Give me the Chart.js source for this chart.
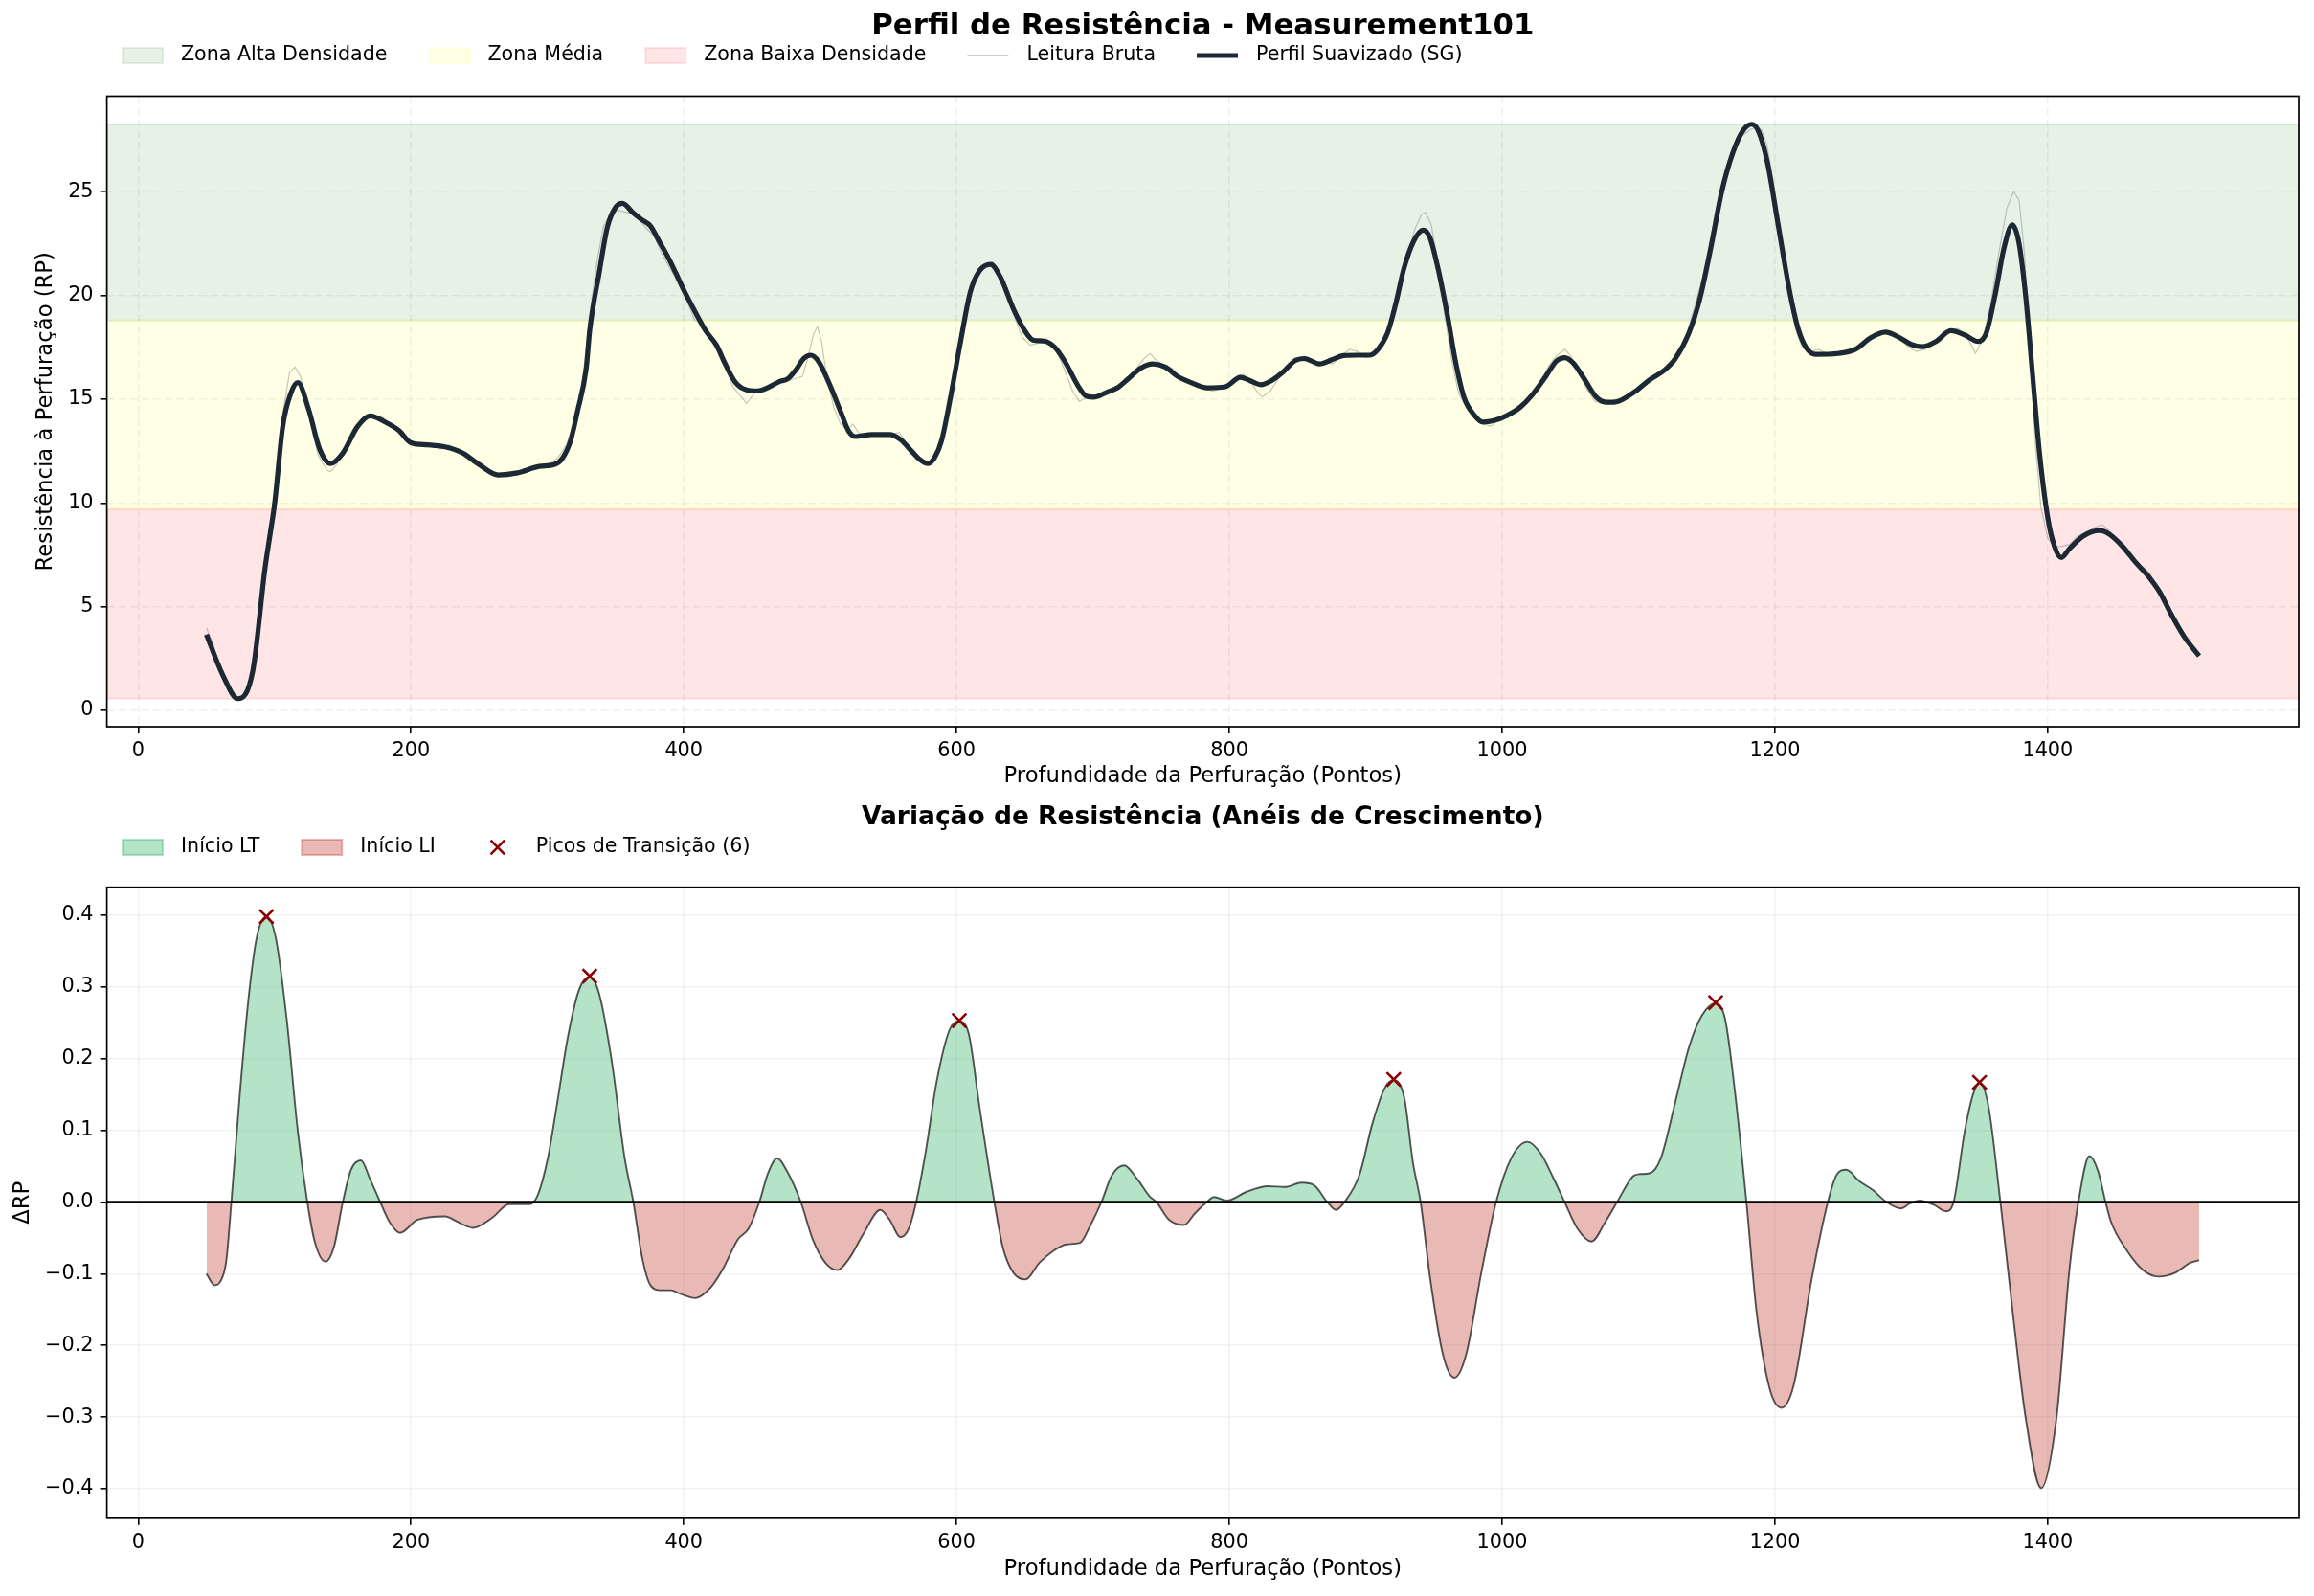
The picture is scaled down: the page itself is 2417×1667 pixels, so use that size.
<!DOCTYPE html>
<html>
<head>
<meta charset="utf-8">
<title>Perfil de Resistência - Measurement101</title>
<script src="https://cdn.jsdelivr.net/npm/chart.js@4.4.1/dist/chart.umd.min.js"></script>
<style>
    html, body { margin: 0; padding: 0; background: #fff; }
    canvas { display: block; }
</style>
</head>
<body>
<canvas id="profile-canvas" width="2417" height="830"></canvas>
<canvas id="delta-canvas" width="2417" height="837"></canvas>
<script>
// smoothed profile (SG)
var profileDepth = [50,62,73,84,93,96.5,100,106,112,117,125,
    133,141,150,161,170,181,191,200,212,225,
    238,250,264,278,294,305,311,317,322,328.5,
    331,338,344,350,355,363,369,375.5,382,388,
    394,400,410,416,424,430,438,446,454,463,
    470,476,482,488,493,499,507,515,521,526,
    538,551,559,567,573,579,584,589,595,603,
    610,617,625,632,642,650,656,664,672,680,
    689,695,701,710,718,727,735,744,753,762,
    772,784,797,808,815,823,831,840,848,855,
    866,875,884,894,903,909,916,922,928,935,
    942,947,953,960,966,972,980,986,994,1003,
    1013,1022,1032,1040,1046,1052,1060,1069,1077,1085,
    1097,1108,1119,1127,1137,1145,1153,1161,1169,1177,
    1183,1188,1194.5,1202.5,1210.6,1217,1223,1230,1246,1259,
    1270,1281,1291,1300,1308,1318,1329,1339,1349,1355,
    1361.5,1368,1374,1379,1384,1389,1394,1400,1405,1410,
    1416,1426,1438,1445,1455,1464,1474,1482,1490,1500,
    1511];
var profileRP = [3.66,1.71,0.57,1.9,6.86,8.4,9.95,13.7,15.3,15.8,14.5,
    12.6,11.9,12.4,13.7,14.2,13.9,13.5,12.9,12.8,12.7,
    12.4,11.85,11.35,11.45,11.76,11.85,12.15,13.0,14.4,16.5,
    18.3,21.1,23.3,24.25,24.44,23.97,23.66,23.35,22.6,21.9,
    21.1,20.26,19.0,18.3,17.6,16.75,15.8,15.45,15.4,15.6,
    15.85,15.97,16.4,16.96,17.12,16.8,15.7,14.4,13.45,13.2,
    13.3,13.3,13.05,12.5,12.1,11.9,12.2,13.0,14.9,17.8,
    20.15,21.2,21.5,20.9,19.3,18.3,17.85,17.8,17.5,16.75,
    15.65,15.15,15.1,15.33,15.55,16.05,16.5,16.7,16.55,16.1,
    15.8,15.55,15.6,16.05,15.9,15.7,15.9,16.35,16.85,16.96,
    16.7,16.9,17.1,17.12,17.12,17.4,18.2,19.6,21.3,22.6,
    23.15,22.8,21.3,19.0,16.75,15.1,14.2,13.9,13.97,14.2,
    14.6,15.2,16.1,16.85,17.0,16.75,16.0,15.1,14.85,14.9,
    15.35,15.93,16.4,16.96,18.2,19.85,22.3,25.0,26.85,27.98,
    28.25,27.9,26.4,23.35,20.26,18.4,17.47,17.16,17.2,17.4,
    17.95,18.23,17.98,17.64,17.53,17.78,18.3,18.1,17.78,18.2,
    20.05,22.3,23.4,22.5,19.85,16.1,12.4,9.3,7.9,7.37,
    7.8,8.4,8.67,8.5,7.9,7.17,6.45,5.72,4.7,3.56,
    2.63];

// raw reading (thin grey line)
var rawDepth = [50,55,62,70,75,80,86,93,100,106,
    111,115,119,125,132,138,141,146,152,158,
    163,168,174,178,184,191,198,205,210,216,
    222,228,234,240,246,252,258,264,270,276,
    282,288,292,296,302,308,314,320,326,331,
    336,341,346,352,358,364,368,373,378,384,
    390,396,402,408,413,418,424,430,436,441,
    446,452,458,464,470,476,482,487,491,495,
    498,501,505,510,515,520,524,528,534,540,
    546,552,558,562,568,574,579,584,590,596,
    603,610,616,622,627,632,640,648,654,660,
    666,672,678,685,690,696,702,708,714,720,
    726,732,738,742,746,752,758,764,770,776,
    782,788,794,800,806,810,815,820,824,830,
    836,842,848,852,858,864,870,876,882,888,
    894,900,906,912,918,924,930,936,941,944,
    948,953,958,963,968,974,980,986,992,998,
    1004,1010,1016,1022,1028,1034,1040,1046,1050,1056,
    1062,1068,1074,1080,1086,1092,1098,1104,1110,1116,
    1122,1128,1134,1140,1146,1152,1158,1164,1170,1176,
    1182,1186,1190,1194,1198,1204,1210,1215,1220,1226,
    1232,1238,1244,1250,1256,1262,1268,1274,1280,1286,
    1292,1298,1304,1310,1316,1322,1328,1334,1340,1344,
    1347,1352,1358,1364,1370,1375,1379,1383,1387,1391,
    1395,1400,1405,1410,1416,1422,1428,1434,1440,1446,
    1452,1458,1464,1470,1475,1480,1486,1492,1498,1504,
    1510];
var rawRP = [3.98,3.2,1.6,0.7,0.5,0.9,2.6,7.0,10.3,14.3,
    16.3,16.55,16.1,14.3,12.3,11.6,11.5,11.9,12.8,13.6,
    13.9,14.2,14.1,14.2,13.8,13.4,13.0,12.9,12.7,12.75,
    12.6,12.8,12.6,12.2,11.9,11.7,11.5,11.4,11.3,11.35,
    11.5,11.6,11.8,11.7,11.9,12.2,12.8,14.0,16.0,19.0,
    21.5,23.3,23.9,24.1,24.0,24.0,23.6,23.2,22.9,22.0,
    21.3,20.6,19.8,18.8,18.7,18.2,17.5,16.6,15.6,15.2,
    14.8,15.3,15.4,15.7,15.8,15.9,16.0,16.1,17.0,18.1,
    18.5,17.8,16.0,14.6,13.8,13.5,13.8,13.4,13.2,13.3,
    13.2,13.3,13.4,13.0,12.5,12.1,11.9,12.2,13.3,15.4,
    18.2,20.4,21.3,21.5,21.6,21.0,19.4,18.0,17.6,17.7,
    17.9,17.5,16.6,15.4,14.9,15.1,15.2,15.2,15.4,15.6,
    15.9,16.5,17.0,17.2,16.9,16.6,16.5,16.0,15.9,15.7,
    15.5,15.4,15.5,15.7,16.1,16.2,15.9,15.4,15.1,15.4,
    16.0,16.5,17.0,16.9,16.8,16.7,16.8,16.7,17.1,17.4,
    17.3,17.0,17.2,17.8,18.6,20.0,21.8,23.2,23.9,24.0,
    23.4,21.5,19.0,16.9,15.3,14.6,14.1,13.8,13.7,14.1,
    14.1,14.4,14.7,15.1,15.8,16.6,17.1,17.4,17.1,16.3,
    15.5,14.9,14.8,14.9,15.0,15.1,15.3,15.7,16.0,16.2,
    16.5,17.0,17.8,19.2,20.6,22.4,24.4,26.0,27.0,27.7,
    28.0,28.1,28.0,27.3,25.8,23.0,20.2,18.4,17.5,17.3,
    17.4,17.2,17.2,17.3,17.3,17.5,17.9,18.1,18.2,18.2,
    17.9,17.5,17.3,17.4,17.7,18.0,18.3,18.4,18.1,17.6,
    17.2,17.8,19.5,22.0,24.2,25.0,24.6,22.0,17.5,12.8,
    9.8,8.3,7.9,7.9,8.0,8.4,8.6,8.8,8.96,8.6,
    8.1,7.6,7.1,6.9,6.6,5.9,5.2,4.4,3.7,3.1,
    2.7];

// density zones (lower / upper bound of each band)
var zoneNames = ['Zona Alta Densidade', 'Zona Média', 'Zona Baixa Densidade'];
var zoneLow = [18.8, 9.7, 0.57];
var zoneHigh = [28.24, 18.8, 9.7];

// resistance variation
var deltaDepth = [50,56,60.5,64.6,68.3,74.6,81,87,94,101,
    109,117,124,129.4,137.3,143.6,150,156,163.3,170,
    177.4,184.3,192,204.6,225,234.4,245.4,259.5,272,287,
    293,300.2,306.5,315,323,331,338,347.3,356.6,363,
    369.2,375.5,383,390.5,397.4,408.4,419.3,428.8,439.7,447.5,
    455.4,461.7,468.5,475.7,485.8,494.5,503.9,512.7,521.2,532.1,
    544.1,551,558.8,565,570.4,577.6,585.4,594.8,601.8,609,
    616.8,627.7,634,641.8,650.6,660.6,671,680.7,690.5,698,
    706.2,713.8,722.8,732.5,741.5,746.5,755.9,766.9,774.7,783.5,
    788.8,798.2,812.3,828,840.5,853.1,862.4,871.8,878.2,884.4,
    895.4,904.8,914.2,920.5,928.3,934.6,940.2,947.1,956.5,965,
    973.7,984.7,995.6,1006.6,1018.6,1028.5,1037.9,1045.8,1055.2,1065.5,
    1075.6,1084.3,1096,1101,1108,1116.3,1127,1137,1146.4,1156.5,
    1163.5,1170.5,1179.1,1186.5,1196.1,1204.8,1213.8,1226.6,1238.8,1245.3,
    1252.3,1261.9,1271.6,1281.8,1292.4,1299,1306.2,1316.5,1325.5,1331,
    1339,1345.4,1350.2,1356.6,1365.3,1374.3,1383.9,1395.2,1406.4,1416,
    1422.5,1430.5,1436.9,1442.4,1446.5,1457.8,1470.6,1481.9,1493.1,1504.3,
    1511];
var deltaRP = [-0.100,-0.116,-0.11,-0.082,0,0.153,0.286,0.37,0.398,0.367,
    0.253,0.099,0,-0.055,-0.083,-0.062,0,0.045,0.058,0.032,
    0,-0.028,-0.043,-0.025,-0.02,-0.028,-0.036,-0.022,-0.003,-0.003,
    0.01,0.06,0.13,0.23,0.295,0.314,0.29,0.195,0.062,0,
    -0.075,-0.116,-0.123,-0.123,-0.128,-0.134,-0.12,-0.093,-0.052,-0.037,
    0,0.04,0.061,0.043,0,-0.052,-0.085,-0.095,-0.079,-0.043,
    -0.011,-0.025,-0.049,-0.037,0,0.073,0.168,0.24,0.252,0.234,
    0.133,0,-0.064,-0.099,-0.108,-0.085,-0.068,-0.059,-0.057,-0.033,
    0,0.037,0.051,0.032,0.008,0,-0.025,-0.032,-0.016,0,
    0.007,0.002,0.014,0.022,0.021,0.027,0.023,0,-0.011,0,
    0.038,0.109,0.16,0.17,0.145,0.055,0,-0.105,-0.212,-0.245,
    -0.212,-0.099,0,0.061,0.084,0.067,0.032,0,-0.037,-0.055,
    -0.028,0,0.036,0.039,0.04,0.061,0.14,0.216,0.26,0.277,
    0.255,0.157,0,-0.153,-0.26,-0.287,-0.255,-0.111,0,0.038,
    0.045,0.029,0.017,0,-0.009,-0.002,0.002,-0.004,-0.013,0,
    0.097,0.151,0.166,0.133,0,-0.153,-0.302,-0.399,-0.302,-0.093,
    0,0.064,0.043,0,-0.028,-0.067,-0.096,-0.104,-0.099,-0.085,
    -0.081];

// transition peaks (x markers)
var peakDepth = [94, 331, 602, 920.5, 1156.5, 1350];
var peakDelta = [0.398, 0.315, 0.253, 0.171, 0.278, 0.167];

// tick labels
var depthTicks = [0, 200, 400, 600, 800, 1000, 1200, 1400];
var rpTicks = [0, 5, 10, 15, 20, 25];
var deltaTicks = [-0.4, -0.3, -0.2, -0.1, 0, 0.1, 0.2, 0.3, 0.4];

var FONT = '"DejaVu Sans", sans-serif';
Chart.defaults.font.family = FONT;
Chart.defaults.color = '#000';

var zoneColors = ['rgba(0,128,0,0.1)', 'rgba(255,255,0,0.1)', 'rgba(255,0,0,0.1)'];
var ltColor = 'rgba(39,174,96,0.35)';
var liColor = 'rgba(192,57,43,0.35)';
var peakColor = '#8b0000';

// builds {x, y} points from two arrays
function toPoints(xs, ys) {
    var pts = [];
    for (var i = 0; i < xs.length; i++) {
        pts.push({x: xs[i], y: ys[i]});
    }
    return pts;
}

// ticks taken from a fixed list
function fixedTicks(list) {
    return function (scale) {
        scale.ticks = list.map(function (v) { return {value: v}; });
    };
}

// shaded density bands behind the curves
var zonePlugin = {
    id: 'zones',
    beforeDatasetsDraw: function (chart) {
        var ctx = chart.ctx;
        var area = chart.chartArea;
        var y = chart.scales.y;
        ctx.save();
        ctx.beginPath();
        ctx.rect(area.left, area.top, area.right - area.left, area.bottom - area.top);
        ctx.clip();
        for (var i = 0; i < zoneNames.length; i++) {
            var top = y.getPixelForValue(zoneHigh[i]);
            var bottom = y.getPixelForValue(zoneLow[i]);
            ctx.fillStyle = zoneColors[i];
            ctx.fillRect(area.left, top, area.right - area.left, bottom - top);
            ctx.strokeStyle = zoneColors[i];
            ctx.lineWidth = 2;
            ctx.strokeRect(area.left, top, area.right - area.left, bottom - top);
        }
        ctx.restore();
    }
};

// zero reference line of the variation panel
var zeroPlugin = {
    id: 'zeroLine',
    afterDatasetsDraw: function (chart) {
        var ctx = chart.ctx;
        var area = chart.chartArea;
        var py = chart.scales.y.getPixelForValue(0);
        ctx.save();
        ctx.strokeStyle = '#000';
        ctx.lineWidth = 2.6;
        ctx.beginPath();
        ctx.moveTo(area.left, py);
        ctx.lineTo(area.right, py);
        ctx.stroke();
        ctx.restore();
    }
};

// full box round the plot area, like matplotlib spines
var framePlugin = {
    id: 'frame',
    afterDraw: function (chart) {
        var ctx = chart.ctx;
        var a = chart.chartArea;
        ctx.save();
        ctx.strokeStyle = '#000';
        ctx.lineWidth = 1.7;
        ctx.strokeRect(a.left, a.top, a.right - a.left, a.bottom - a.top);
        ctx.restore();
    }
};

// draws one legend handle
function drawHandle(ctx, item, x, y) {
    ctx.save();
    if (item.kind === 'patch') {
        ctx.fillStyle = item.color;
        ctx.fillRect(x + 1, y - 8, 42, 16);
        ctx.strokeStyle = item.color;
        ctx.lineWidth = 2;
        ctx.strokeRect(x + 1, y - 8, 42, 16);
    } else if (item.kind === 'line') {
        ctx.strokeStyle = item.color;
        ctx.lineWidth = item.width;
        ctx.beginPath();
        ctx.moveTo(x, y);
        ctx.lineTo(x + 43, y);
        ctx.stroke();
    } else {
        var cx = x + 22, r = 7.3;
        ctx.strokeStyle = item.color;
        ctx.lineWidth = 2.6;
        ctx.beginPath();
        ctx.moveTo(cx - r, y - r);
        ctx.lineTo(cx + r, y + r);
        ctx.moveTo(cx - r, y + r);
        ctx.lineTo(cx + r, y - r);
        ctx.stroke();
    }
    ctx.restore();
}

// title above the panel and a one-row legend under it
function headerPlugin(title, titleSize, titleY, legendY, items) {
    return {
        id: 'header',
        afterDraw: function (chart) {
            var ctx = chart.ctx;
            var a = chart.chartArea;
            ctx.save();
            ctx.fillStyle = '#000';
            ctx.textBaseline = 'middle';
            ctx.textAlign = 'center';
            ctx.font = 'bold ' + titleSize + 'px ' + FONT;
            ctx.fillText(title, (a.left + a.right) / 2, titleY);

            ctx.textAlign = 'left';
            ctx.font = '20.6px ' + FONT;
            var x = 127;
            items.forEach(function (item) {
                drawHandle(ctx, item, x, legendY);
                var tx = x + 62;
                ctx.fillStyle = '#000';
                ctx.fillText(item.text, tx, legendY);
                x = tx + ctx.measureText(item.text).width + 43;
            });
            ctx.restore();
        }
    };
}

// shared axis styling
function depthAxis(height, titlePad, dashed, gridColor) {
    return {
        type: 'linear',
        min: -23,
        max: 1584,
        afterBuildTicks: fixedTicks(depthTicks),
        afterFit: function (scale) { scale.height = height; },
        grid: {color: gridColor, lineWidth: 1.6, tickColor: '#000', tickWidth: 1.6, tickLength: 7, tickBorderDash: []},
        border: {display: false, dash: dashed ? [8, 4] : []},
        ticks: {font: {size: 20.8}, color: '#000', padding: 6, maxRotation: 0, autoSkip: false,
            callback: function (v) { return String(v); }},
        title: {display: true, text: 'Profundidade da Perfuração (Pontos)', font: {size: 22.7}, color: '#000',
            padding: {top: 0, bottom: titlePad}}
    };
}

// top panel: resistance profile
var profileChart = new Chart(document.getElementById('profile-canvas'), {
    type: 'line',
    data: {
        datasets: [{
            label: 'Perfil Suavizado (SG)',
            data: toPoints(profileDepth, profileRP),
            borderColor: '#1c2833',
            borderWidth: 5.2,
            pointRadius: 0,
            fill: false,
            cubicInterpolationMode: 'monotone',
            order: 0
        }, {
            label: 'Leitura Bruta',
            data: toPoints(rawDepth, rawRP),
            borderColor: 'rgba(128,128,128,0.45)',
            borderWidth: 1.2,
            pointRadius: 0,
            fill: false,
            tension: 0,
            order: 1
        }]
    },
    options: {
        responsive: false,
        animation: false,
        devicePixelRatio: 1,
        layout: {padding: {top: 100.5, right: 16, bottom: 0, left: 0}},
        plugins: {legend: {display: false}, tooltip: {enabled: false}},
        scales: {
            x: depthAxis(71, 5.3, true, 'rgba(176,176,176,0.2)'),
            y: {
                type: 'linear',
                min: -0.78,
                max: 29.6,
                afterBuildTicks: fixedTicks(rpTicks),
                afterFit: function (scale) { scale.width = 111.6; },
                grid: {color: 'rgba(176,176,176,0.2)', lineWidth: 1.6, tickColor: '#000', tickWidth: 1.6, tickLength: 7, tickBorderDash: []},
                border: {display: false, dash: [8, 4]},
                ticks: {font: {size: 20.8}, color: '#000', padding: 7,
                    callback: function (v) { return String(v); }},
                title: {display: true, text: 'Resistência à Perfuração (RP)', font: {size: 22.7}, color: '#000',
                    padding: {top: 34.3, bottom: 0}}
            }
        }
    },
    plugins: [zonePlugin, framePlugin, headerPlugin('Perfil de Resistência - Measurement101', 30.8, 28, 58, [
        {kind: 'patch', color: zoneColors[0], text: zoneNames[0]},
        {kind: 'patch', color: zoneColors[1], text: zoneNames[1]},
        {kind: 'patch', color: zoneColors[2], text: zoneNames[2]},
        {kind: 'line', color: 'rgba(128,128,128,0.5)', width: 1.6, text: 'Leitura Bruta'},
        {kind: 'line', color: '#1c2833', width: 5.2, text: 'Perfil Suavizado (SG)'}
    ])]
});

// bottom panel: resistance variation
var deltaChart = new Chart(document.getElementById('delta-canvas'), {
    type: 'line',
    data: {
        datasets: [{
            label: 'Picos de Transição',
            data: toPoints(peakDepth, peakDelta),
            showLine: false,
            pointStyle: 'crossRot',
            pointRadius: 10.4,
            pointBorderColor: peakColor,
            pointBorderWidth: 2.6,
            borderColor: peakColor,
            order: 0
        }, {
            label: 'ΔRP',
            data: toPoints(deltaDepth, deltaRP),
            borderColor: 'rgba(0,0,0,0.65)',
            borderWidth: 1.9,
            pointRadius: 0,
            cubicInterpolationMode: 'monotone',
            fill: {target: 'origin', above: ltColor, below: liColor},
            order: 1
        }]
    },
    options: {
        responsive: false,
        animation: false,
        devicePixelRatio: 1,
        layout: {padding: {top: 96.7, right: 16, bottom: 0, left: 0}},
        plugins: {legend: {display: false}, tooltip: {enabled: false}},
        scales: {
            x: depthAxis(81.2, 14.3, false, 'rgba(176,176,176,0.17)'),
            y: {
                type: 'linear',
                min: -0.441,
                max: 0.439,
                afterBuildTicks: fixedTicks(deltaTicks),
                afterFit: function (scale) { scale.width = 111.6; },
                grid: {color: 'rgba(176,176,176,0.17)', lineWidth: 1.6, tickColor: '#000', tickWidth: 1.6, tickLength: 7, tickBorderDash: []},
                border: {display: false, dash: []},
                ticks: {font: {size: 20.8}, color: '#000', padding: 7,
                    callback: function (v) { return v.toFixed(1).replace('-', '\u2212'); }},
                title: {display: true, text: 'ΔRP', font: {size: 22.7}, color: '#000',
                    padding: {top: 10.8, bottom: 0}}
            }
        }
    },
    plugins: [zeroPlugin, framePlugin, headerPlugin('Variação de Resistência (Anéis de Crescimento)', 26.5, 24, 55, [
        {kind: 'patch', color: ltColor, text: 'Início LT'},
        {kind: 'patch', color: liColor, text: 'Início LI'},
        {kind: 'marker', color: peakColor, text: 'Picos de Transição (' + peakDepth.length + ')'}
    ])]
});
</script>
</body>
</html>
